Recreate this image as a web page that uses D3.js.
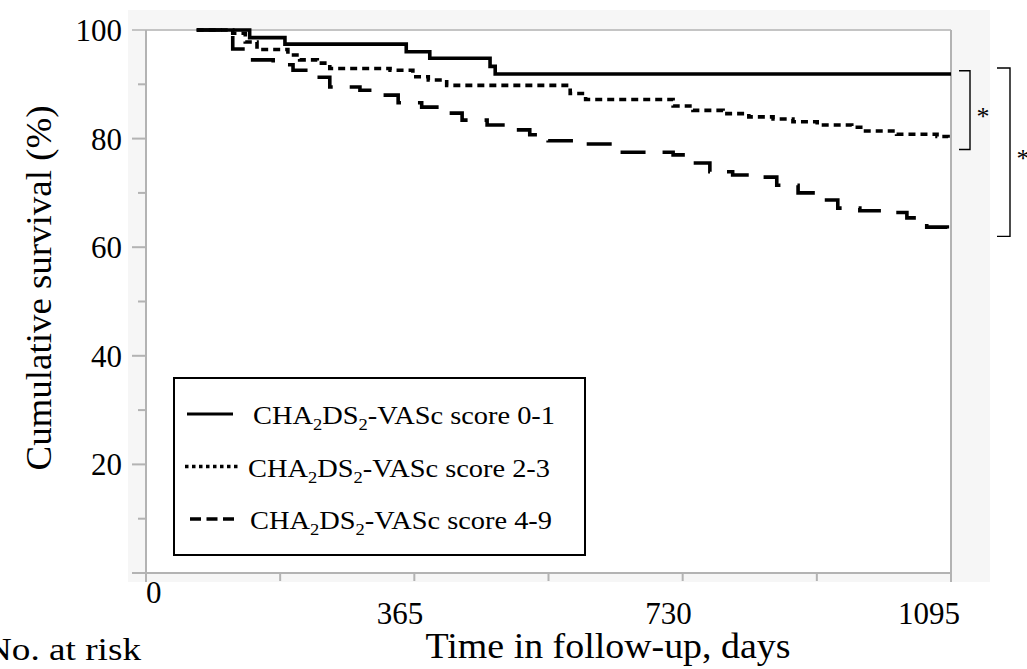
<!DOCTYPE html>
<html>
<head>
<meta charset="utf-8">
<script src="https://cdn.jsdelivr.net/npm/d3@7"></script>
<style>
  body { margin: 0; background: #fff; }
  svg { display: block; font-family: "Liberation Serif", "Times New Roman", serif; }
</style>
</head>
<body>
<svg id="chart" width="1027" height="669"></svg>
<script>
// Kaplan-Meier steps (day, cumulative survival %)
const days_01 = [69, 141, 189, 354, 386, 468, 475, 1095];
const surv_01 = [100, 98.6, 97.4, 96.0, 94.8, 93.3, 91.9, 91.9];

const days_23 = [69, 118, 135, 151, 193, 209, 233, 250, 332, 363, 384, 409, 577, 598, 717, 744, 785, 820, 853, 880, 913, 960, 975, 1021, 1076, 1091, 1095];
const surv_23 = [100, 99.4, 97.8, 96.4, 95.4, 94.5, 93.9, 92.9, 92.6, 91.4, 90.8, 89.8, 88.3, 87.2, 86.0, 85.2, 84.6, 84.0, 83.6, 83.1, 82.5, 82.1, 81.4, 80.8, 80.4, 79.9, 79.9];

const days_49 = [69, 101, 118, 137, 173, 200, 233, 250, 291, 318, 343, 375, 403, 430, 464, 488, 522, 547, 584, 645, 717, 740, 767, 798, 835, 858, 887, 913, 941, 971, 1008, 1035, 1062, 1090, 1095];
const surv_49 = [100, 99.5, 96.5, 94.5, 93.6, 92.6, 91.3, 89.5, 88.9, 88.0, 86.6, 85.8, 84.7, 83.4, 82.5, 81.6, 80.7, 79.6, 79.0, 77.5, 77.0, 75.5, 73.9, 73.3, 72.9, 71.4, 70.0, 68.7, 67.2, 66.7, 66.4, 65.4, 63.7, 62.6, 62.6];

const groupLabels = ["0-1", "2-3", "4-9"];
const xTickLabels = [0, 365, 730, 1095];
const yTickLabels = [20, 40, 60, 80, 100];
// significance brackets (survival % at top and bottom)
const brackets = [[92.5, 78], [93, 62]];

const svg = d3.select("#chart");

const x = d3.scaleLinear().domain([0, 1095]).range([146, 951]);
const y = d3.scaleLinear().domain([0, 100]).range([573, 30]);

// light gray panel + white plot area
svg.append("rect").attr("x", 128).attr("y", 10).attr("width", 862).attr("height", 572).attr("fill", "#f6f6f6");
svg.append("rect").attr("x", x(0)).attr("y", y(100)).attr("width", x(1095) - x(0)).attr("height", y(0) - y(100)).attr("fill", "#fff");

const axisColor = "#b3b3b3";

// frame: top and right
svg.append("line").attr("x1", 132).attr("x2", x(1095)).attr("y1", y(100)).attr("y2", y(100))
  .attr("stroke", "#c4c4c4").attr("stroke-width", 2);
svg.append("line").attr("x1", x(1095)).attr("x2", x(1095)).attr("y1", y(100)).attr("y2", 582)
  .attr("stroke", axisColor).attr("stroke-width", 2);

// y axis
svg.append("line").attr("x1", x(0)).attr("x2", x(0)).attr("y1", y(100)).attr("y2", 582)
  .attr("stroke", axisColor).attr("stroke-width", 2);
svg.selectAll(".ytick").data(d3.range(0, 100, 10)).enter().append("line")
  .attr("x1", d => d % 20 === 0 ? 132 : 138).attr("x2", x(0))
  .attr("y1", d => y(d)).attr("y2", d => y(d))
  .attr("stroke", axisColor).attr("stroke-width", 2);
svg.selectAll(".ylab").data(yTickLabels).enter().append("text")
  .attr("x", 122).attr("y", d => y(d) + 11)
  .attr("text-anchor", "end").attr("font-size", 31).text(d => d);

// x axis
svg.append("line").attr("x1", 132).attr("x2", x(1095)).attr("y1", y(0)).attr("y2", y(0))
  .attr("stroke", axisColor).attr("stroke-width", 2);
svg.selectAll(".xtick").data(d3.range(182.5, 1096, 182.5)).enter().append("line")
  .attr("x1", d => x(d)).attr("x2", d => x(d)).attr("y1", y(0)).attr("y2", 581)
  .attr("stroke", axisColor).attr("stroke-width", 2);
svg.selectAll(".xlab").data(xTickLabels).enter().append("text")
  .attr("x", (d, i) => i === 0 ? x(d) : x(d) + 9)
  .attr("y", (d, i) => i === 0 ? 603 : 624)
  .attr("text-anchor", (d, i) => i === 0 ? "start" : "end")
  .attr("font-size", 31).text(d => d);

// axis titles
svg.append("text").attr("x", 608).attr("y", 658).attr("text-anchor", "middle")
  .attr("font-size", 35).attr("textLength", 365).attr("lengthAdjust", "spacingAndGlyphs")
  .text("Time in follow-up, days");
svg.append("text").attr("transform", "translate(51,288) rotate(-90)").attr("text-anchor", "middle")
  .attr("font-size", 35).attr("textLength", 365).attr("lengthAdjust", "spacingAndGlyphs")
  .text("Cumulative survival (%)");
svg.append("text").attr("x", 141).attr("y", 660).attr("text-anchor", "end")
  .attr("font-size", 32).attr("textLength", 156).attr("lengthAdjust", "spacingAndGlyphs")
  .text("No. at risk");

// survival curves
const series = [
  { days: days_01, surv: surv_01, dash: null },
  { days: days_23, surv: surv_23, dash: "7,5" },
  { days: days_49, surv: surv_49, dash: "25,17" }
];
const line = d3.line().curve(d3.curveStepAfter).x(d => x(d[0])).y(d => y(d[1]));
series.forEach(s => {
  svg.append("path")
    .datum(d3.zip(s.days, s.surv))
    .attr("d", line)
    .attr("fill", "none").attr("stroke", "#000").attr("stroke-width", 3.6)
    .attr("stroke-dasharray", s.dash);
});

// brackets with asterisks
const bx = [[959, 970], [997, 1010]];
brackets.forEach((b, i) => {
  svg.append("path")
    .attr("d", `M${bx[i][0]},${y(b[0])}H${bx[i][1]}V${y(b[1])}H${bx[i][0]}`)
    .attr("fill", "none").attr("stroke", "#000").attr("stroke-width", 1.4);
  svg.append("text").attr("x", bx[i][1] + 13).attr("y", (y(b[0]) + y(b[1])) / 2 + 15)
    .attr("text-anchor", "middle").attr("font-size", 26).text("*");
});

// legend
const legend = svg.append("g");
legend.append("rect").attr("x", 174).attr("y", 378).attr("width", 411).attr("height", 177)
  .attr("fill", "#fff").attr("stroke", "#000").attr("stroke-width", 2);
const legSample = [
  { x1: 187, x2: 233, dash: null, w: 3.2 },
  { x1: 185, x2: 240, dash: "3.5,3.5", w: 3.5 },
  { x1: 190, x2: 234, dash: "11,5.5", w: 3.5 }
];
const legTextX = [253, 248, 250];
groupLabels.forEach((g, i) => {
  const ly = 414 + i * 52.5;
  legend.append("line").attr("x1", legSample[i].x1).attr("x2", legSample[i].x2)
    .attr("y1", ly).attr("y2", ly)
    .attr("stroke", "#000").attr("stroke-width", legSample[i].w)
    .attr("stroke-dasharray", legSample[i].dash);
  const t = legend.append("text").attr("x", legTextX[i]).attr("y", ly + 10)
    .attr("font-size", 26).attr("textLength", 302).attr("lengthAdjust", "spacingAndGlyphs");
  t.append("tspan").text("CHA");
  t.append("tspan").attr("dy", 6).attr("font-size", 17).text("2");
  t.append("tspan").attr("dy", -6).text("DS");
  t.append("tspan").attr("dy", 6).attr("font-size", 17).text("2");
  t.append("tspan").attr("dy", -6).text("-VASc score " + g);
});
</script>
</body>
</html>
